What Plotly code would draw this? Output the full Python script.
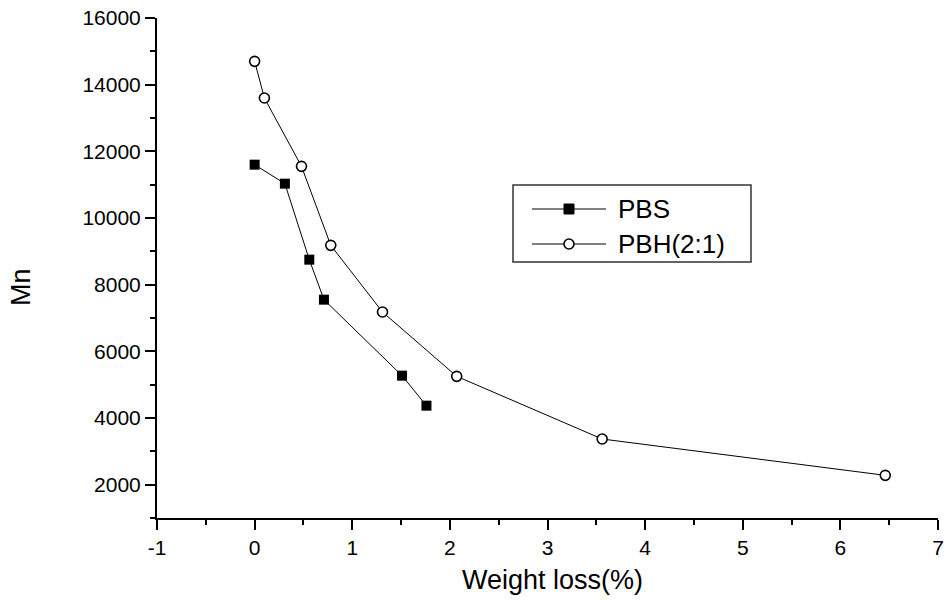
import plotly.graph_objects as go

# Data
pbs_x = [0.0, 0.31, 0.56, 0.71, 1.51, 1.76]
pbs_y = [11600, 11030, 8750, 7550, 5270, 4370]

pbh_x = [0.0, 0.10, 0.48, 0.78, 1.31, 2.07, 3.56, 6.46]
pbh_y = [14700, 13600, 11550, 9180, 7180, 5250, 3370, 2280]

x_tickvals = [-1, 0, 1, 2, 3, 4, 5, 6, 7]
x_ticktext = ["-1", "0", "1", "2", "3", "4", "5", "6", "7"]
y_tickvals = [2000, 4000, 6000, 8000, 10000, 12000, 14000, 16000]
y_ticktext = ["2000", "4000", "6000", "8000", "10000", "12000", "14000", "16000"]

series_names = ["PBS", "PBH(2:1)"]
x_title = "Weight loss(%)"
y_title = "Mn"

FONT = "Liberation Sans, Arial, sans-serif"

# plot area in pixels (for layout of legend / titles)
L, R, T, B = 157, 938, 18, 518
W, H = 947, 603


def px(x):
    return (x - L) / (R - L)


def py(y):
    return (B - y) / (B - T)


fig = go.Figure()
fig.add_trace(go.Scatter(
    x=pbs_x, y=pbs_y, name=series_names[0], mode="lines+markers",
    line=dict(color="black", width=1),
    marker=dict(symbol="square", size=10, color="black"),
    showlegend=False,
))
fig.add_trace(go.Scatter(
    x=pbh_x, y=pbh_y, name=series_names[1], mode="lines+markers",
    line=dict(color="black", width=1),
    marker=dict(symbol="circle", size=10, color="white",
                line=dict(color="black", width=1.6)),
    showlegend=False,
))

axis_common = dict(
    showgrid=False, zeroline=False, showline=True, linecolor="black",
    linewidth=2, ticks="outside", ticklen=10, tickwidth=1.5,
    tickcolor="black", tickfont=dict(family=FONT, size=21, color="black"),
    mirror=False, ticklabeloverflow="allow", automargin=False,
)

fig.update_xaxes(
    range=[-1, 7], tickvals=x_tickvals, ticktext=x_ticktext,
    minor=dict(dtick=0.5, tick0=0, ticks="outside", ticklen=5, tickwidth=1.5, tickcolor="black"),
    **axis_common,
)
fig.update_yaxes(
    range=[1000, 16000], tickvals=y_tickvals, ticktext=y_ticktext,
    minor=dict(dtick=1000, tick0=0, ticks="outside", ticklen=5, tickwidth=1.5, tickcolor="black"),
    **axis_common,
)

shapes = []
annotations = []

# Legend box
shapes.append(dict(type="rect", xref="paper", yref="paper",
                   x0=px(513), x1=px(751), y0=py(262), y1=py(185),
                   line=dict(color="#333333", width=1.5), fillcolor="white", layer="above"))
rows = [209, 244]
for i, (ry, name) in enumerate(zip(rows, series_names)):
    shapes.append(dict(type="line", xref="paper", yref="paper",
                       x0=px(532), x1=px(606), y0=py(ry), y1=py(ry),
                       line=dict(color="black", width=1), layer="above"))
    if i == 0:
        shapes.append(dict(type="rect", xref="paper", yref="paper",
                           x0=px(564), x1=px(574), y0=py(ry + 5), y1=py(ry - 5),
                           line=dict(color="black", width=1), fillcolor="black", layer="above"))
    else:
        shapes.append(dict(type="circle", xref="paper", yref="paper",
                           x0=px(564), x1=px(574), y0=py(ry + 5), y1=py(ry - 5),
                           line=dict(color="black", width=1.6), fillcolor="white", layer="above"))
    annotations.append(dict(text=name, xref="paper", yref="paper",
                            x=px(616), y=py(ry), xanchor="left", yanchor="middle",
                            showarrow=False, font=dict(family=FONT, size=26, color="black")))

# Axis titles
annotations.append(dict(text=x_title, xref="paper", yref="paper",
                        x=px(552), y=py(580), xanchor="center", yanchor="middle",
                        showarrow=False, font=dict(family=FONT, size=27, color="black")))
annotations.append(dict(text=y_title, xref="paper", yref="paper",
                        x=px(21), y=py(287), xanchor="center", yanchor="middle",
                        textangle=-90,
                        showarrow=False, font=dict(family=FONT, size=27, color="black")))

fig.update_layout(
    width=W, height=H,
    margin=dict(l=L, r=W - R, t=T, b=H - B),
    plot_bgcolor="white", paper_bgcolor="white",
    showlegend=False,
    shapes=shapes, annotations=annotations,
)

fig.write_html("out.html")
